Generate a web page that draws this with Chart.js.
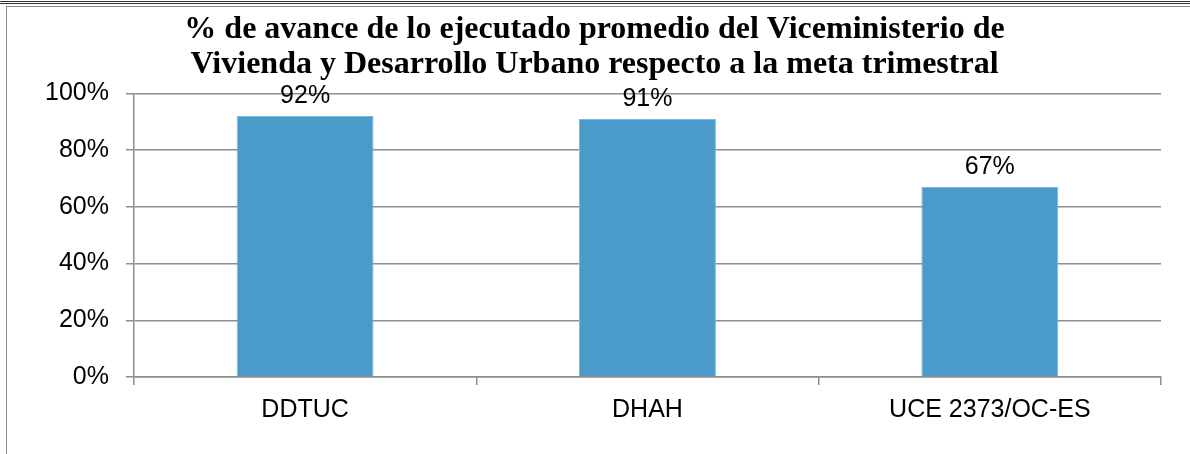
<!DOCTYPE html>
<html>
<head>
<meta charset="utf-8">
<script src="https://cdn.jsdelivr.net/npm/chart.js@4"></script>
<style>
  body { margin: 0; width: 1190px; height: 454px; overflow: hidden; background: #fff; position: relative; }
  .encabezado {
    position: absolute; left: 0; top: -14px; width: 1190px; height: 18px;
    border-bottom: 3px double #333;
    font: italic 17px "Liberation Serif", serif; text-align: right;
    padding-right: 6px; box-sizing: border-box; line-height: 18px; color: #222;
  }
  .marco {
    position: absolute; left: 6px; top: 6px; width: 1200px; height: 460px;
    border: 1.5px solid #8a8a8a; box-sizing: border-box;
  }
  #grafico { position: absolute; left: 0; top: 0; }
</style>
</head>
<body>
<div class="encabezado">Unidad de Desarrollo Institucional</div>
<div class="marco"></div>
<canvas id="grafico" width="1190" height="454"></canvas>
<script>
const categorias = ['DDTUC', 'DHAH', 'UCE 2373/OC-ES'];
const avance = [92, 91, 67];
const ticksY = [0, 20, 40, 60, 80, 100];
const titulo = [
  '% de avance de lo ejecutado promedio del Viceministerio de',
  'Vivienda y Desarrollo Urbano respecto a la meta trimestral'
];

const fuente = '"Liberation Sans", Arial, sans-serif';

// etiqueta de valor encima de cada barra
const etiquetas = {
  id: 'etiquetas',
  afterDatasetsDraw(chart) {
    const ctx = chart.ctx;
    const meta = chart.getDatasetMeta(0);
    ctx.save();
    ctx.font = '25px ' + fuente;
    ctx.fillStyle = '#000';
    ctx.textAlign = 'center';
    ctx.textBaseline = 'alphabetic';
    meta.data.forEach((barra, i) => {
      ctx.fillText(avance[i] + '%', barra.x, barra.y - 13);
    });
    ctx.restore();
  }
};

new Chart(document.getElementById('grafico'), {
  type: 'bar',
  data: {
    labels: categorias,
    datasets: [{
      data: avance,
      backgroundColor: '#4a9bca',
      borderColor: '#7fb8dc',
      borderWidth: 1,
      barPercentage: 0.4,
      categoryPercentage: 1
    }]
  },
  options: {
    responsive: false,
    animation: false,
    layout: { padding: { left: 28, right: 29, top: 0, bottom: 19 } },
    plugins: {
      legend: { display: false },
      tooltip: { enabled: false },
      title: {
        display: true,
        text: titulo,
        color: '#000',
        font: { family: '"Liberation Serif", "Times New Roman", serif', size: 32, weight: 'bold', lineHeight: 1.1 },
        padding: { top: 12, bottom: 11 }
      }
    },
    scales: {
      x: {
        grid: { drawOnChartArea: false, tickLength: 8, color: '#8e8e8e', lineWidth: 1.5 },
        border: { color: '#8e8e8e', width: 1.5 },
        ticks: { color: '#000', padding: 10, font: { family: fuente, size: 25 } }
      },
      y: {
        min: 0,
        max: 100,
        afterBuildTicks: (eje) => { eje.ticks = ticksY.map(v => ({ value: v })); },
        grid: { color: '#8e8e8e', lineWidth: 1.5, tickLength: 8 },
        border: { color: '#8e8e8e', width: 1.5 },
        ticks: {
          color: '#000', padding: 17,
          font: { family: fuente, size: 25 },
          callback: (v) => v + '%'
        }
      }
    }
  },
  plugins: [etiquetas]
});
</script>
</body>
</html>
